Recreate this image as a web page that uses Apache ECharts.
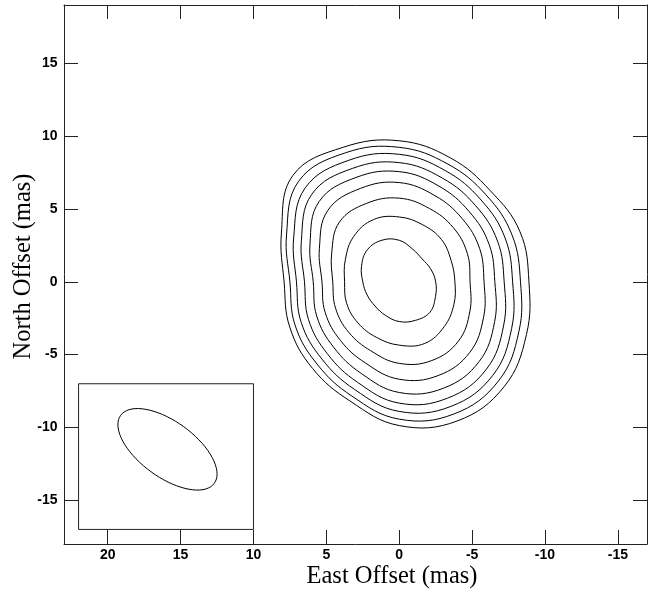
<!DOCTYPE html>
<html>
<head>
<meta charset="utf-8">
<script src="https://cdn.jsdelivr.net/npm/echarts@6/dist/echarts.min.js"></script>
<style>
  html, body { margin: 0; padding: 0; background: #fff; }
  #main { width: 654px; height: 595px; }
</style>
</head>
<body>
<div id="main"></div>
<script>
// tick values (mas)
const xTicks = [20, 15, 10, 5, 0, -5, -10, -15]
const yTicks = [15, 10, 5, 0, -5, -10, -15]

// contour radii (mas) from the origin, every 22.5 deg,
// starting due east (left on the map) and turning towards north
const contourAngles = [0, 22.5, 45, 67.5, 90, 112.5, 135, 157.5, 180, 202.5, 225, 247.5, 270, 292.5, 315, 337.5]
const contour1 = [7.9, 8.75, 10.32, 10.0, 9.68, 9.2, 8.84, 8.97, 8.9, 9.45, 10.18, 10.35, 9.87, 8.85, 8.41, 8.13]
const contour2 = [7.5, 8.37, 9.76, 9.59, 9.23, 8.74, 8.43, 8.38, 8.32, 8.89, 9.63, 9.82, 9.43, 8.49, 7.98, 7.74]
const contour3 = [7.05, 7.84, 9.12, 9.03, 8.75, 8.26, 7.94, 7.86, 7.78, 8.35, 9.08, 9.26, 8.9, 8.0, 7.5, 7.28]
const contour4 = [6.5, 7.27, 8.49, 8.42, 8.18, 7.71, 7.4, 7.3, 7.2, 7.76, 8.47, 8.65, 8.33, 7.47, 6.98, 6.74]
const contour5 = [5.9, 6.63, 7.78, 7.75, 7.56, 7.11, 6.8, 6.68, 6.56, 7.09, 7.75, 7.91, 7.6, 6.81, 6.36, 6.13]
const contour6 = [5.3, 5.93, 6.93, 6.94, 6.81, 6.4, 6.12, 5.97, 5.82, 6.27, 6.85, 6.97, 6.69, 6.04, 5.7, 5.5]
const contour7 = [4.56, 5.02, 5.8, 5.83, 5.74, 5.44, 5.25, 5.06, 4.86, 5.25, 5.75, 5.85, 5.6, 5.12, 4.9, 4.73]
const contour8 = [3.75, 4.0, 4.41, 4.62, 4.45, 4.23, 4.1, 3.85, 3.82, 4.06, 4.36, 4.58, 4.35, 4.12, 4.0, 3.9]
const contour9 = [2.5, 2.8, 3.1, 3.09, 2.85, 2.42, 2.22, 2.33, 2.5, 2.69, 2.97, 2.87, 2.73, 2.49, 2.35, 2.38]

// restoring beam and its box
const beamBoxEast = [22, 10]
const beamBoxNorth = [-17, -7]
const beamCenter = [15.9, -11.5]
const beamAxes = [3.97, 1.91] // semi-major, semi-minor (mas)
const beamPA = 54 // deg, north through east

const contours = [contour1, contour2, contour3, contour4, contour5, contour6, contour7, contour8, contour9]
const rings = contours.map(r => r.map((d, i) => {
  const a = contourAngles[i] * Math.PI / 180
  return [d * Math.cos(a), d * Math.sin(a)]
}))

const pa = beamPA * Math.PI / 180
const beamRing = []
for (let k = 0; k < 72; k++) {
  const t = k / 72 * 2 * Math.PI
  const ma = beamAxes[0] * Math.cos(t), mi = beamAxes[1] * Math.sin(t)
  beamRing.push([
    beamCenter[0] + ma * Math.sin(pa) - mi * Math.cos(pa),
    beamCenter[1] + ma * Math.cos(pa) + mi * Math.sin(pa)
  ])
}
const boxRing = [
  [beamBoxEast[0], beamBoxNorth[0]], [beamBoxEast[0], beamBoxNorth[1]],
  [beamBoxEast[1], beamBoxNorth[1]], [beamBoxEast[1], beamBoxNorth[0]]
]

const chart = echarts.init(document.getElementById('main'))

const lineColor = '#222'
const tickLabel = { fontFamily: 'Liberation Sans', fontWeight: 'bold', fontSize: 14, color: '#000' }
const titleFont = '24.5px "Liberation Serif"'

function frameAxis(pos, values, min, max, inverse, showLabel, margin) {
  return {
    type: 'value', position: pos, min: min, max: max, inverse: inverse,
    axisLine: { show: true, onZero: false, lineStyle: { color: lineColor, width: 1 } },
    axisTick: { show: true, inside: true, length: 14, customValues: values, lineStyle: { color: lineColor, width: 1 } },
    axisLabel: Object.assign({ show: showLabel, customValues: values, margin: margin }, tickLabel),
    splitLine: { show: false }
  }
}

function ringSeries(list, smooth, color) {
  return {
    type: 'custom',
    coordinateSystem: 'cartesian2d',
    silent: true,
    data: list.map(r => r[0]),
    renderItem: (params, api) => ({
      type: 'polygon',
      shape: { points: list[params.dataIndex].map(p => api.coord(p)), smooth: smooth },
      style: { fill: 'none', stroke: color, lineWidth: 1 }
    })
  }
}

const option = {
  animation: false,
  grid: { left: 64, right: 7, top: 5, bottom: 51 },
  xAxis: [
    frameAxis('bottom', xTicks, -17, 23, true, true, 4.5),
    frameAxis('top', xTicks, -17, 23, true, false, 5)
  ],
  yAxis: [
    frameAxis('left', yTicks, -18, 19, false, true, 6.5),
    frameAxis('right', yTicks, -18, 19, false, false, 6.5)
  ],
  graphic: [
    {
      type: 'text', x: 392, y: 577,
      style: { text: 'East Offset (mas)', font: titleFont, fill: '#000', align: 'center', verticalAlign: 'middle' }
    },
    {
      type: 'text', x: 24, y: 266.5, rotation: Math.PI / 2,
      style: { text: 'North Offset (mas)', font: titleFont, fill: '#000', align: 'center', verticalAlign: 'middle' }
    }
  ],
  series: [
    ringSeries(rings, 0.4, '#000'),
    ringSeries([beamRing], 0, '#000'),
    ringSeries([boxRing], 0, lineColor)
  ]
}
chart.setOption(option)
</script>
</body>
</html>
